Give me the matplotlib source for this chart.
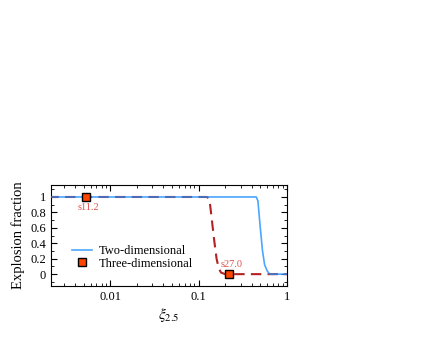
import matplotlib
matplotlib.use("Agg")
import matplotlib.pyplot as plt
from matplotlib.ticker import FixedLocator, FuncFormatter, MultipleLocator, LogLocator

plt.rcParams['font.family'] = ['Liberation Serif', 'DejaVu Serif']
plt.rcParams['mathtext.fontset'] = 'stix'

# 2D explosion fraction curve
xi_2d = [0.002, 0.40, 0.45, 0.47, 0.50, 0.53, 0.56, 0.60, 0.64, 0.70, 1.0]
frac_2d = [1.0, 1.0, 1.0, 0.95, 0.6, 0.3, 0.12, 0.04, 0.0, 0.0, 0.0]

# 3D explosion fraction curve
xi_3d = [0.002, 0.125, 0.133, 0.14, 0.15, 0.16, 0.17, 0.18, 0.20, 0.23, 1.0]
frac_3d = [1.0, 1.0, 0.97, 0.75, 0.45, 0.2, 0.07, 0.02, 0.0, 0.0, 0.0]

# 3D models
model_names = ["s11.2", "s27.0"]
model_xi = [0.0053, 0.22]
model_frac = [1.0, 0.0]

fig = plt.figure(figsize=(4.36, 3.37), dpi=100)
ax = fig.add_axes([0.117, 0.151, 0.541, 0.30])

ax.plot(xi_3d, frac_3d, color='#b22222', lw=1.5, ls=(0, (5, 3)), zorder=2)
ax.plot(xi_2d, frac_2d, color='#1e90ff', lw=1.2, alpha=0.8, zorder=3,
        label='Two-dimensional')
ax.plot(model_xi, model_frac, ls='none', marker='s', ms=6,
        mfc='#ff4500', mec='black', mew=1.0, zorder=5,
        label='Three-dimensional')

offsets = [-0.14, 0.13]
for name, x, y, dy in zip(model_names, model_xi, model_frac, offsets):
    ax.annotate(name, (x, y), xytext=(3, dy * 77), textcoords='offset pixels',
                color='#e05050', fontsize=7.5, ha='center', va='center')

ax.set_xscale('log')
ax.set_xlim(0.00214, 1.0)
ax.set_ylim(-0.155, 1.155)
ax.xaxis.set_major_locator(FixedLocator([0.001, 0.01, 0.1, 1]))
ax.xaxis.set_minor_locator(LogLocator(base=10, subs=range(2, 10)))
ax.xaxis.set_major_formatter(FuncFormatter(lambda v, p: '%g' % v))
ax.yaxis.set_major_locator(MultipleLocator(0.2))
ax.yaxis.set_minor_locator(MultipleLocator(0.1))
ax.yaxis.set_major_formatter(FuncFormatter(lambda v, p: '%g' % round(v, 2)))
ax.tick_params(which='both', direction='in', top=True, right=True, labelsize=9)
ax.tick_params(which='major', length=4)
ax.tick_params(which='minor', length=2)

ax.set_xlabel(r'$\xi_{2.5}$', fontsize=11, labelpad=2)
ax.set_ylabel('Explosion fraction', fontsize=10.5)

ax.legend(loc='lower left', bbox_to_anchor=(0.04, 0.05), frameon=False, fontsize=9,
          handlelength=1.6, handletextpad=0.6, labelspacing=0.05)

fig.savefig('out.png', dpi=100)
